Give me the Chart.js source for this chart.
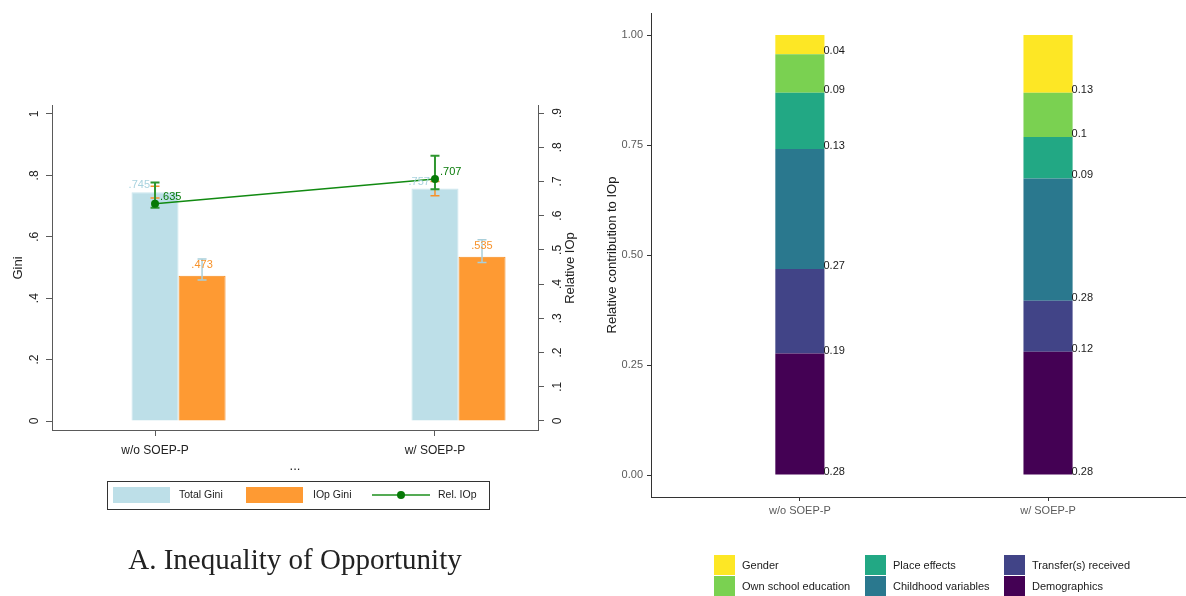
<!DOCTYPE html>
<html>
<head>
<title>IOp figure</title>
<script src="https://cdn.jsdelivr.net/npm/chart.js@4.4.1/dist/chart.umd.min.js"></script>
<style>
body{margin:0;background:#fff;width:1186px;height:596px;overflow:hidden;position:relative;}
#left{position:absolute;left:0;top:0;}
#right{position:absolute;left:590px;top:0;}
#capA{position:absolute;left:0;width:590px;top:543px;text-align:center;font-family:"Liberation Serif",serif;font-size:29px;color:#222;}
</style>
</head>
<body>
<canvas id="left" width="590" height="596"></canvas>
<canvas id="right" width="596" height="596"></canvas>
<div id="capA">A. Inequality of Opportunity</div>
<script>
// panel A
var groups = ['w/o SOEP-P', 'w/ SOEP-P'];
var totalGini = [0.745, 0.757];
var totalGiniCI = [[0.726, 0.765], [0.734, 0.780]];
var iopGini = [0.473, 0.535];
var iopGiniCI = [[0.459, 0.528], [0.516, 0.590]];
var relIOp = [0.635, 0.707];
var relIOpCI = [[0.623, 0.697], [0.677, 0.775]];
var giniTicks = [0, 0.2, 0.4, 0.6, 0.8, 1];
var relTicks = [0, 0.1, 0.2, 0.3, 0.4, 0.5, 0.6, 0.7, 0.8, 0.9];

// panel B (bottom to top)
var factors = ['Demographics', 'Transfer(s) received', 'Childhood variables', 'Place effects', 'Own school education', 'Gender'];
var shareWithout = [0.276, 0.192, 0.273, 0.128, 0.087, 0.044];
var shareWith = [0.280, 0.116, 0.278, 0.094, 0.101, 0.131];
var shareTicks = [0, 0.25, 0.5, 0.75, 1];
var factorColors = ['#440154', '#414487', '#2a788e', '#22a884', '#7ad151', '#fde725'];

var SANS = "'Liberation Sans', Arial, sans-serif";
Chart.defaults.font.family = SANS;

var blue = '#bddfe8', orange = '#fe9a33', green = '#077a07';

function pts(vals) {
  return vals.map(function (v, i) { return {x: i + 1, y: v}; });
}
function stata(v) {
  if (v === 0) return '0';
  if (v === 1) return '1';
  return String(Math.round(v * 10) / 10).replace(/^0/, '');
}
function lbl3(v) { return v.toFixed(3).replace(/^0/, ''); }

function vText(ctx, txt, x, y) {
  ctx.save();
  ctx.translate(x, y);
  ctx.rotate(-Math.PI / 2);
  ctx.textAlign = 'center';
  ctx.textBaseline = 'middle';
  ctx.fillText(txt, 0, 0);
  ctx.restore();
}

function errBar(ctx, x, y1, y2, color, w) {
  ctx.strokeStyle = color;
  ctx.lineWidth = w;
  ctx.beginPath();
  ctx.moveTo(x, y1); ctx.lineTo(x, y2);
  ctx.moveTo(x - 4.5, y1); ctx.lineTo(x + 4.5, y1);
  ctx.moveTo(x - 4.5, y2); ctx.lineTo(x + 4.5, y2);
  ctx.stroke();
}

var panelA = {
  id: 'panelA',
  beforeDatasetDraw: function (chart, args) {
    if (args.index !== 0) return;
    var ctx = chart.ctx, y = chart.scales.y, y2 = chart.scales.y2;
    var mb = chart.getDatasetMeta(2), mo = chart.getDatasetMeta(3), ml = chart.getDatasetMeta(0);
    ctx.save();
    for (var i = 0; i < groups.length; i++) {
      errBar(ctx, mb.data[i].x, y.getPixelForValue(totalGiniCI[i][0]), y.getPixelForValue(totalGiniCI[i][1]), '#f7922a', 1.5);
      errBar(ctx, mo.data[i].x, y.getPixelForValue(iopGiniCI[i][0]), y.getPixelForValue(iopGiniCI[i][1]), '#a9cfda', 1.5);
      errBar(ctx, ml.data[i].x, y2.getPixelForValue(relIOpCI[i][0]), y2.getPixelForValue(relIOpCI[i][1]), '#2f962f', 2);
    }
    ctx.restore();
  },
  afterDraw: function (chart) {
    var ctx = chart.ctx, y = chart.scales.y, y2 = chart.scales.y2, a = chart.chartArea;
    ctx.save();
    ctx.fillStyle = '#222';
    ctx.font = '12px ' + SANS;
    giniTicks.forEach(function (v) { vText(ctx, stata(v), 35, y.getPixelForValue(v)); });
    relTicks.forEach(function (v) { vText(ctx, stata(v), a.right + 20, y2.getPixelForValue(v)); });
    ctx.font = '13px ' + SANS;
    vText(ctx, 'Gini', 18, 268);
    vText(ctx, 'Relative IOp', a.right + 32, 268);
    ctx.textAlign = 'center';
    ctx.textBaseline = 'middle';
    ctx.fillText('...', (a.left + a.right) / 2, 466);

    // value labels
    var mb = chart.getDatasetMeta(2), mo = chart.getDatasetMeta(3), ml = chart.getDatasetMeta(0);
    ctx.font = '11px ' + SANS;
    for (var i = 0; i < groups.length; i++) {
      ctx.fillStyle = '#a9d3df';
      ctx.textAlign = 'right';
      ctx.fillText(lbl3(totalGini[i]), mb.data[i].x - 5, mb.data[i].y - 7);
      ctx.fillStyle = '#f7922a';
      ctx.textAlign = 'center';
      ctx.fillText(lbl3(iopGini[i]), mo.data[i].x, mo.data[i].y - 11);
      ctx.fillStyle = green;
      ctx.textAlign = 'left';
      ctx.fillText(lbl3(relIOp[i]), ml.data[i].x + 5, ml.data[i].y - 7);
    }

    // legend
    ctx.strokeStyle = '#333';
    ctx.lineWidth = 1;
    ctx.strokeRect(107.5, 481.5, 382, 28);
    ctx.fillStyle = blue;
    ctx.fillRect(113, 487, 57, 16);
    ctx.fillStyle = orange;
    ctx.fillRect(246, 487, 57, 16);
    ctx.strokeStyle = '#1d8f1d';
    ctx.lineWidth = 1.5;
    ctx.beginPath(); ctx.moveTo(372, 495); ctx.lineTo(430, 495); ctx.stroke();
    ctx.fillStyle = green;
    ctx.beginPath(); ctx.arc(401, 495, 4, 0, Math.PI * 2); ctx.fill();
    ctx.fillStyle = '#222';
    ctx.font = '10.5px ' + SANS;
    ctx.textAlign = 'left';
    ctx.fillText('Total Gini', 179, 495);
    ctx.fillText('IOp Gini', 313, 495);
    ctx.fillText('Rel. IOp', 438, 495);
    ctx.restore();
  }
};

var axisGrey = '#5a5a5a';
var chartL = new Chart(document.getElementById('left').getContext('2d'), {
  type: 'bar',
  data: {
    datasets: [
      {type: 'line', label: 'Rel. IOp', data: pts(relIOp), yAxisID: 'y2', borderColor: '#118a11', borderWidth: 1.5,
       pointRadius: 4, pointBackgroundColor: green, pointBorderWidth: 0, tension: 0},
      {label: '', data: pts([null, null])},
      {label: 'Total Gini', data: pts(totalGini), backgroundColor: blue, borderColor: '#cbe6ee', borderWidth: 1},
      {label: 'IOp Gini', data: pts(iopGini), backgroundColor: orange, borderColor: '#f58a1f', borderWidth: 1}
    ]
  },
  options: {
    responsive: false,
    animation: false,
    layout: {padding: {top: 105, left: 0, right: 0, bottom: 0}},
    datasets: {bar: {categoryPercentage: 0.504, barPercentage: 1}},
    plugins: {legend: {display: false}, tooltip: {enabled: false}},
    scales: {
      x: {
        type: 'linear', min: 0.632, max: 2.368, offset: false,
        grid: {offset: false, drawOnChartArea: false, tickLength: 6, color: axisGrey},
        border: {color: axisGrey},
        afterBuildTicks: function (s) { s.ticks = groups.map(function (g, i) { return {value: i + 1}; }); },
        afterFit: function (s) { s.height = 166; },
        ticks: {autoSkip: false, maxRotation: 0, padding: 7, color: '#222', font: {size: 12},
                callback: function (v) { return groups[v - 1]; }}
      },
      y: {
        position: 'left', min: -0.0293, max: 1.0293,
        grid: {drawOnChartArea: false, tickLength: 6, color: axisGrey},
        border: {color: axisGrey},
        afterBuildTicks: function (s) { s.ticks = giniTicks.map(function (v) { return {value: v}; }); },
        afterFit: function (s) { s.width = 52; },
        ticks: {display: false}
      },
      y2: {
        position: 'right', min: -0.0263, max: 0.9234,
        grid: {drawOnChartArea: false, tickLength: 6, color: axisGrey},
        border: {color: axisGrey},
        afterBuildTicks: function (s) { s.ticks = relTicks.map(function (v) { return {value: v}; }); },
        afterFit: function (s) { s.width = 52; },
        ticks: {display: false}
      }
    }
  },
  plugins: [panelA]
});

var panelB = {
  id: 'panelB',
  afterDatasetsDraw: function (chart) {
    var ctx = chart.ctx;
    ctx.save();
    ctx.font = '11px ' + SANS;
    ctx.fillStyle = '#1a1a1a';
    ctx.textAlign = 'left';
    ctx.textBaseline = 'middle';
    chart.data.datasets.forEach(function (ds, k) {
      var meta = chart.getDatasetMeta(k);
      meta.data.forEach(function (bar, i) {
        var v = ds.data[i].y;
        ctx.fillText(String(Number(v.toFixed(2))), bar.x + bar.width / 2 - 1, bar.base - 3);
      });
    });
    ctx.restore();
  },
  afterDraw: function (chart) {
    var ctx = chart.ctx, a = chart.chartArea;
    ctx.save();
    ctx.fillStyle = '#1a1a1a';
    ctx.font = '13px ' + SANS;
    vText(ctx, 'Relative contribution to IOp', 22, (a.top + a.bottom) / 2);
    // legend, column by column, top of stack first
    var order = factors.map(function (f, k) { return k; }).reverse();
    var colX = [124, 275, 414];
    ctx.font = '11px ' + SANS;
    ctx.textAlign = 'left';
    ctx.textBaseline = 'middle';
    order.forEach(function (k, n) {
      var x = colX[Math.floor(n / 2)], y = 555 + (n % 2) * 21;
      ctx.fillStyle = factorColors[k];
      ctx.fillRect(x, y, 21, 20);
      ctx.fillStyle = '#1a1a1a';
      ctx.fillText(factors[k], x + 28, y + 11);
    });
    ctx.restore();
  }
};

var chartR = new Chart(document.getElementById('right').getContext('2d'), {
  type: 'bar',
  data: {
    datasets: factors.map(function (f, k) {
      return {label: f, data: [{x: 1, y: shareWithout[k]}, {x: 2, y: shareWith[k]}], backgroundColor: factorColors[k]};
    })
  },
  options: {
    responsive: false,
    animation: false,
    layout: {padding: {top: 13, left: 0, right: 0, bottom: 0}},
    datasets: {bar: {categoryPercentage: 0.198, barPercentage: 1}},
    plugins: {legend: {display: false}, tooltip: {enabled: false}},
    scales: {
      x: {
        type: 'linear', stacked: true, min: 0.4, max: 2.556, offset: false,
        grid: {offset: false, drawOnChartArea: false, tickLength: 4, color: '#333'},
        border: {color: '#333'},
        afterBuildTicks: function (s) { s.ticks = groups.map(function (g, i) { return {value: i + 1}; }); },
        afterFit: function (s) { s.height = 99; },
        ticks: {autoSkip: false, maxRotation: 0, padding: 3, color: '#5a5a5a', font: {size: 11},
                callback: function (v) { return groups[v - 1]; }}
      },
      y: {
        stacked: true, min: -0.05, max: 1.05,
        grid: {drawOnChartArea: false, tickLength: 4, color: '#333'},
        border: {color: '#333'},
        afterBuildTicks: function (s) { s.ticks = shareTicks.map(function (v) { return {value: v}; }); },
        afterFit: function (s) { s.width = 61; },
        ticks: {padding: 4, color: '#5a5a5a', font: {size: 11}, callback: function (v) { return v.toFixed(2); }}
      }
    }
  },
  plugins: [panelB]
});
</script>
</body>
</html>
